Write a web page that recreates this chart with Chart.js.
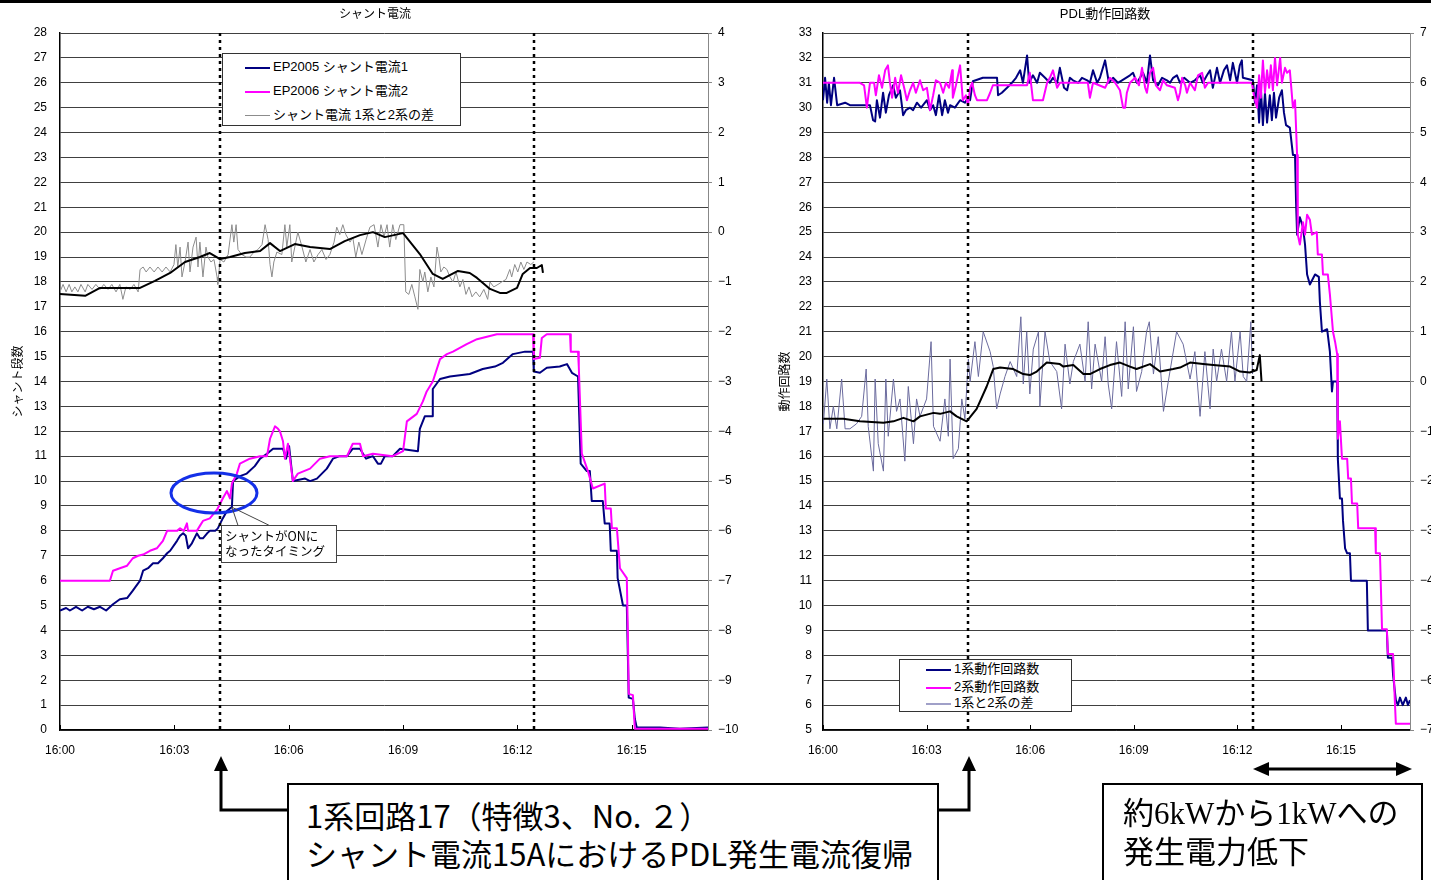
<!DOCTYPE html>
<html lang="ja">
<head>
<meta charset="utf-8">
<title>シャント電流 / PDL動作回路数</title>
<script src="https://cdn.jsdelivr.net/npm/chart.js@4.4.1/dist/chart.umd.min.js"></script>
<style>
  html, body { margin: 0; padding: 0; background: #fff; }
  body { width: 1431px; height: 880px; position: relative; overflow: hidden;
         font-family: 'Liberation Sans', 'Noto Sans CJK JP', sans-serif; }
  .topbar { position: absolute; left: 0; top: 0; width: 1431px; height: 3px; background: #000; }
  canvas { position: absolute; top: 0; }
  #cv1 { left: 0; }
  #cv2 { left: 765px; }
  .legend { position: absolute; background: #fff; border: 1px solid #333; font-size: 13px; color: #000; }
  .legend div { position: absolute; white-space: nowrap; }
  .legend i { display: inline-block; width: 25px; vertical-align: middle; margin-right: 3px; }
  .note { position: absolute; border: 2px solid #000; background: #fff; color: #000; }
  .note div { position: absolute; white-space: nowrap; }
  svg { position: absolute; left: 0; top: 0; }
</style>
</head>
<body>
<div class="topbar"></div>
<canvas id="cv1" width="750" height="771"></canvas>
<canvas id="cv2" width="680" height="771"></canvas>

<div class="legend" style="left:222px;top:53px;width:237px;height:71px;">
  <div style="left:22px;top:4px;line-height:18px;"><i style="border-top:2px solid #000080;"></i>EP2005 シャント電流1</div>
  <div style="left:22px;top:28px;line-height:18px;"><i style="border-top:2px solid #ff00ff;"></i>EP2006 シャント電流2</div>
  <div style="left:22px;top:52px;line-height:18px;"><i style="border-top:1px solid #8c8c8c;"></i>シャント電流 1系と2系の差</div>
</div>

<div class="legend" style="left:899px;top:659px;width:171px;height:51px;">
  <div style="left:26px;top:1px;line-height:16px;"><i style="border-top:2px solid #000080;"></i>1系動作回路数</div>
  <div style="left:26px;top:19px;line-height:16px;"><i style="border-top:2px solid #ff00ff;"></i>2系動作回路数</div>
  <div style="left:26px;top:35px;line-height:16px;"><i style="border-top:2px solid #a0a0c8;"></i>1系と2系の差</div>
</div>

<svg width="1431" height="880">
  <polyline points="287,810 221,810 221,768" fill="none" stroke="#000" stroke-width="3"/>
  <polygon points="221,756 214,771 228,771" fill="#000"/>
  <polyline points="937,810 969,810 969,768" fill="none" stroke="#000" stroke-width="3"/>
  <polygon points="969,756 962,771 976,771" fill="#000"/>
  <line x1="1266" y1="769" x2="1398" y2="769" stroke="#000" stroke-width="3"/>
  <polygon points="1253,769 1269,762 1269,776" fill="#000"/>
  <polygon points="1412,769 1396,762 1396,776" fill="#000"/>
</svg>

<div class="note" style="left:287px;top:783px;width:648px;height:120px;font-family:'Noto Sans CJK JP',sans-serif;font-size:31px;">
  <div style="left:17px;top:12px;line-height:36px;">1系回路17（特徴3、No. ２）</div>
  <div style="left:17px;top:50px;line-height:36px;">シャント電流15AにおけるPDL発生電流復帰</div>
</div>
<div class="note" style="left:1102px;top:783px;width:317px;height:120px;font-family:'Liberation Serif','Noto Sans CJK JP',serif;font-size:31px;">
  <div style="left:19px;top:11px;line-height:36px;">約6kWから1kWへの</div>
  <div style="left:19px;top:50px;line-height:36px;">発生電力低下</div>
</div>

<script>
// time axis: minutes after 16:00
const tickMinutes = [0, 3, 6, 9, 12, 15];
const tickLabels = ['16:00', '16:03', '16:06', '16:09', '16:12', '16:15'];

// シャント電流 chart, [minute, value]
const shunt1 = [[0,4.8],[0.16,4.9],[0.26,4.8],[0.42,4.95],[0.58,4.8],[0.73,4.95],[0.89,4.85],[1.05,4.95],[1.21,4.8],[1.39,5.05],[1.57,5.25],[1.76,5.3],[1.91,5.6],[2.10,6.0],[2.18,6.4],[2.31,6.5],[2.44,6.7],[2.57,6.7],[2.70,6.9],[2.81,7.1],[2.89,7.2],[3.07,7.6],[3.15,7.8],[3.23,7.9],[3.30,7.8],[3.36,7.3],[3.46,7.5],[3.59,7.9],[3.67,7.7],[3.75,7.7],[3.86,7.9],[3.93,8.0],[4.07,8.0],[4.14,8.1],[4.27,8.5],[4.38,8.8],[4.46,8.9],[4.51,8.95],[4.54,10.0],[4.72,10.2],[4.90,10.3],[5.11,10.6],[5.25,10.9],[5.43,11.1],[5.59,11.3],[5.85,11.3],[5.93,10.9],[6.01,11.4],[6.11,10.0],[6.43,10.1],[6.56,10.0],[6.74,10.1],[6.87,10.3],[7.00,10.5],[7.16,10.9],[7.34,11.0],[7.53,11.0],[7.68,11.3],[7.87,11.3],[8.03,10.9],[8.21,11.0],[8.34,10.7],[8.42,10.7],[8.52,11.0],[8.73,11.0],[8.92,11.3],[9.39,11.2],[9.44,12.1],[9.57,12.6],[9.76,12.6],[9.78,13.7],[9.97,14.1],[10.23,14.2],[10.75,14.3],[11.09,14.5],[11.41,14.6],[11.62,14.75],[11.88,15.1],[12.20,15.2],[12.41,15.2],[12.43,14.4],[12.59,14.35],[12.77,14.55],[13.11,14.6],[13.30,14.7],[13.43,14.35],[13.59,14.2],[13.66,10.7],[13.82,10.4],[13.90,10.4],[13.95,9.2],[14.24,9.2],[14.29,8.3],[14.42,8.3],[14.45,7.2],[14.61,7.2],[14.63,6.1],[14.77,5.0],[14.87,5.0],[14.90,2.8],[14.92,1.3],[15.03,1.25],[15.08,0.45],[15.13,0.1],[15.74,0.1],[16.26,0.05],[17.00,0.1]];
const shunt2 = [[0,6.0],[1.31,6.0],[1.39,6.4],[1.57,6.5],[1.76,6.6],[1.91,6.9],[2.05,7.0],[2.18,7.05],[2.36,7.2],[2.54,7.3],[2.70,7.6],[2.81,8.0],[3.07,8.0],[3.15,8.1],[3.25,8.0],[3.33,8.3],[3.36,8.0],[3.59,8.0],[3.67,8.2],[3.75,8.4],[3.93,8.5],[4.12,8.85],[4.27,9.3],[4.38,9.6],[4.46,9.3],[4.51,9.9],[4.64,10.3],[4.72,10.7],[4.85,10.8],[4.98,10.9],[5.25,11.0],[5.43,11.0],[5.51,11.7],[5.64,12.2],[5.72,12.1],[5.77,12.0],[5.85,11.6],[5.90,10.9],[5.98,11.5],[6.11,10.0],[6.24,10.3],[6.56,10.5],[6.82,10.9],[7.08,11.0],[7.53,11.0],[7.68,11.5],[7.87,11.5],[7.95,11.0],[8.21,11.1],[8.73,11.0],[9.00,11.2],[9.10,12.4],[9.36,12.7],[9.52,13.2],[9.62,13.6],[9.78,14.0],[9.97,14.9],[10.15,15.1],[10.31,15.2],[10.67,15.5],[10.94,15.7],[11.46,15.9],[12.41,15.9],[12.43,14.9],[12.59,14.95],[12.64,15.75],[12.77,15.9],[13.38,15.9],[13.40,15.2],[13.59,15.2],[13.61,14.6],[13.69,11.1],[13.85,10.4],[13.98,9.7],[14.29,9.9],[14.32,8.9],[14.45,8.9],[14.48,8.1],[14.61,8.1],[14.69,6.5],[14.87,6.1],[14.90,3.7],[14.92,1.45],[15.03,1.4],[15.08,0.05],[17.00,0.05]];
// difference (right axis)
const shuntDiff = [[0,-1.2],[0.08,-1.05],[0.16,-1.2],[0.24,-1.05],[0.31,-1.2],[0.39,-1.1],[0.47,-1.2],[0.55,-1.05],[0.66,-1.2],[0.73,-1.05],[0.84,-1.15],[0.94,-1.05],[1.05,-1.15],[1.15,-1.05],[1.26,-1.15],[1.36,-1.05],[1.47,-1.2],[1.57,-1.05],[1.65,-1.35],[1.73,-1.1],[1.84,-1.15],[1.94,-1.05],[2.05,-1.2],[2.10,-0.75],[2.18,-0.7],[2.26,-0.8],[2.36,-0.7],[2.47,-0.8],[2.57,-0.7],[2.68,-0.8],[2.78,-0.7],[2.89,-0.8],[2.99,-0.65],[3.04,-0.25],[3.09,-0.7],[3.15,-0.3],[3.20,-0.9],[3.28,-0.6],[3.36,-0.2],[3.41,-0.8],[3.49,-0.3],[3.57,-0.1],[3.62,-0.7],[3.67,-0.2],[3.75,-0.9],[3.83,-0.3],[3.88,-0.5],[3.96,-0.6],[4.04,-0.55],[4.12,-0.9],[4.14,-1.05],[4.20,-0.55],[4.30,-0.6],[4.41,-0.45],[4.51,0.15],[4.56,-0.2],[4.62,0.15],[4.67,-0.35],[4.77,-0.45],[4.88,-0.5],[4.98,-0.5],[5.09,-0.4],[5.19,-0.35],[5.30,-0.25],[5.38,0.15],[5.46,-0.15],[5.51,-0.65],[5.56,-0.9],[5.61,-0.6],[5.69,-0.4],[5.82,-0.45],[5.90,0.15],[5.95,-0.3],[6.03,0.15],[6.08,-0.6],[6.16,-0.3],[6.24,0.0],[6.35,-0.3],[6.45,-0.6],[6.56,-0.35],[6.66,-0.6],[6.77,-0.45],[6.87,-0.35],[6.98,-0.55],[7.08,-0.45],[7.19,-0.2],[7.26,0.1],[7.34,-0.05],[7.42,0.15],[7.50,-0.05],[7.61,-0.2],[7.68,-0.1],[7.76,-0.5],[7.84,-0.2],[7.92,-0.45],[8.03,-0.15],[8.13,0.1],[8.24,0.15],[8.34,-0.3],[8.42,0.15],[8.50,-0.1],[8.58,0.15],[8.65,-0.3],[8.73,0.15],[8.81,-0.15],[8.92,0.15],[9.02,0.15],[9.07,-1.2],[9.15,-1.25],[9.23,-1.05],[9.31,-1.3],[9.39,-1.55],[9.44,-0.75],[9.52,-1.0],[9.57,-0.8],[9.65,-1.2],[9.73,-0.9],[9.81,-1.1],[9.89,-0.3],[9.94,-0.5],[9.99,-0.8],[10.07,-0.7],[10.15,-0.75],[10.23,-0.9],[10.31,-1.0],[10.39,-0.8],[10.49,-1.1],[10.57,-0.95],[10.65,-1.25],[10.73,-1.1],[10.81,-1.3],[10.91,-1.2],[11.01,-1.3],[11.12,-1.15],[11.22,-1.35],[11.28,-1.0],[11.38,-1.1],[11.49,-1.05],[11.59,-1.0],[11.70,-0.95],[11.80,-0.75],[11.85,-0.9],[11.93,-0.65],[12.01,-0.8],[12.09,-0.6],[12.17,-0.75],[12.25,-0.6],[12.35,-0.65],[12.43,-0.6]];
const shuntDiffAvg = [[0,-1.24],[0.66,-1.28],[1.05,-1.12],[2.10,-1.12],[2.49,-0.98],[2.89,-0.82],[3.28,-0.6],[3.67,-0.5],[3.93,-0.42],[4.20,-0.54],[4.46,-0.5],[4.85,-0.42],[5.25,-0.38],[5.51,-0.22],[5.77,-0.38],[6.16,-0.24],[6.56,-0.3],[7.08,-0.34],[7.47,-0.18],[7.87,-0.06],[8.21,0.0],[8.52,-0.1],[9.00,-0.02],[9.44,-0.44],[9.78,-0.84],[10.04,-0.94],[10.44,-0.78],[10.75,-0.82],[10.94,-0.92],[11.28,-1.14],[11.54,-1.22],[11.72,-1.22],[11.99,-1.12],[12.14,-0.84],[12.33,-0.72],[12.51,-0.72],[12.64,-0.66],[12.67,-0.82]];

// PDL動作回路数 chart
const pdl1 = [[0,30.3],[0.06,31.2],[0.12,30.2],[0.17,31.0],[0.23,30.1],[0.32,31.2],[0.41,30.1],[0.64,30.2],[0.78,30.1],[1.36,30.1],[1.45,29.5],[1.51,29.45],[1.56,30.3],[1.65,29.6],[1.74,30.6],[1.82,29.8],[1.91,30.5],[2.03,30.9],[2.11,30.4],[2.23,30.7],[2.32,29.7],[2.40,29.9],[2.52,30.0],[2.61,29.9],[2.72,30.2],[2.84,30.0],[3.01,30.3],[3.10,29.9],[3.19,30.1],[3.27,29.7],[3.36,30.5],[3.45,29.7],[3.53,30.3],[3.62,29.8],[3.68,30.1],[3.82,30.0],[3.97,30.3],[4.11,30.2],[4.20,30.4],[4.26,30.3],[4.34,31.06],[4.63,31.2],[5.04,31.2],[5.07,30.5],[5.18,30.6],[5.33,30.8],[5.47,31.0],[5.59,31.2],[5.71,31.5],[5.79,31.0],[5.91,32.1],[5.97,31.0],[6.08,31.3],[6.20,31.0],[6.28,31.4],[6.43,31.2],[6.57,31.0],[6.66,31.2],[6.78,31.0],[6.86,31.6],[6.98,30.8],[7.07,30.7],[7.15,31.2],[7.24,31.1],[7.39,31.0],[7.50,31.2],[7.65,31.1],[7.73,31.0],[7.82,31.5],[7.94,31.0],[8.02,31.2],[8.17,31.9],[8.28,31.0],[8.40,31.2],[8.54,31.0],[8.66,31.1],[8.89,31.3],[8.98,31.4],[9.09,31.0],[9.27,31.4],[9.38,31.0],[9.47,32.1],[9.56,31.1],[9.70,30.9],[9.82,31.2],[9.96,31.1],[10.05,31.0],[10.14,31.2],[10.25,31.3],[10.34,31.0],[10.46,31.2],[10.63,31.0],[10.77,31.1],[10.92,31.3],[11.00,31.0],[11.12,31.3],[11.21,31.5],[11.29,30.8],[11.41,31.6],[11.50,31.0],[11.61,31.5],[11.70,31.7],[11.79,31.1],[11.87,31.8],[11.99,31.0],[12.07,31.7],[12.13,31.9],[12.16,31.2],[12.45,31.1],[12.51,30.2],[12.57,30.9],[12.63,29.4],[12.68,30.8],[12.74,29.3],[12.80,30.6],[12.86,29.4],[12.94,30.5],[13.00,29.5],[13.06,30.6],[13.12,29.6],[13.21,30.4],[13.29,30.7],[13.35,29.8],[13.41,29.3],[13.52,29.2],[13.61,28.1],[13.67,28.1],[13.70,26.2],[13.73,24.9],[13.81,25.6],[13.90,25.2],[13.96,24.5],[14.02,23.3],[14.10,22.9],[14.25,23.3],[14.36,23.2],[14.39,22.2],[14.45,21.0],[14.60,21.1],[14.68,20.2],[14.74,18.6],[14.77,19.0],[14.89,19.0],[14.91,15.9],[14.97,14.3],[15.03,14.3],[15.06,13.4],[15.12,12.3],[15.18,12.1],[15.26,12.1],[15.29,11.0],[15.75,11.0],[15.78,9.0],[16.33,9.0],[16.36,7.9],[16.48,7.9],[16.51,7.2],[16.59,6.2],[16.65,6.0],[16.71,6.3],[16.79,6.0],[16.88,6.3],[16.94,6.0],[17.00,6.2]];
const pdl2 = [[0,31.0],[1.07,31.0],[1.19,30.9],[1.27,30.0],[1.36,31.0],[1.48,31.0],[1.53,30.5],[1.62,31.3],[1.71,30.8],[1.80,31.5],[1.88,31.7],[1.94,31.0],[2.00,30.4],[2.09,31.2],[2.17,30.6],[2.26,31.3],[2.35,30.8],[2.43,30.3],[2.52,30.7],[2.61,31.0],[2.69,30.6],[2.81,31.1],[2.90,30.7],[3.01,30.8],[3.10,29.9],[3.19,30.5],[3.27,31.1],[3.39,31.0],[3.48,30.6],[3.56,31.0],[3.65,30.8],[3.74,31.5],[3.76,30.4],[3.85,30.9],[3.97,31.7],[4.05,30.3],[4.14,30.5],[4.20,30.1],[4.26,30.8],[4.32,31.0],[4.40,30.5],[4.46,30.3],[4.75,30.3],[4.84,30.6],[4.92,30.9],[5.91,30.9],[5.99,31.4],[6.08,30.3],[6.37,30.3],[6.49,31.0],[6.57,31.2],[6.66,31.5],[6.78,30.8],[6.86,31.0],[7.67,31.0],[7.73,30.4],[7.82,31.0],[8.17,30.8],[8.31,31.2],[8.46,31.0],[8.60,30.7],[8.69,30.0],[8.75,30.0],[8.80,30.6],[8.89,31.0],[9.04,31.2],[9.15,30.9],[9.24,31.6],[9.33,30.8],[9.38,30.6],[9.47,31.4],[9.56,31.6],[9.64,30.9],[9.76,30.7],[9.85,31.1],[9.96,30.9],[10.19,30.8],[10.28,30.3],[10.34,30.6],[10.40,31.2],[10.49,30.9],[10.54,30.6],[10.63,31.0],[10.77,30.7],[10.86,31.3],[10.98,31.4],[11.06,30.8],[11.15,31.0],[12.42,31.0],[12.48,30.5],[12.57,30.0],[12.63,31.3],[12.68,30.4],[12.74,31.9],[12.80,30.6],[12.86,31.5],[12.92,30.8],[12.97,31.7],[13.03,30.7],[13.09,32.0],[13.15,30.9],[13.24,32.0],[13.29,31.0],[13.38,31.6],[13.44,31.4],[13.52,31.5],[13.61,30.0],[13.67,30.3],[13.73,28.1],[13.75,24.9],[13.81,24.5],[13.90,25.4],[13.96,24.9],[14.02,25.7],[14.10,25.5],[14.16,24.9],[14.30,25.0],[14.33,24.1],[14.45,24.1],[14.48,23.3],[14.62,23.3],[14.68,22.5],[14.74,21.5],[14.77,21.0],[14.83,20.6],[14.89,20.1],[14.91,16.7],[14.97,17.4],[15.03,15.9],[15.18,15.9],[15.21,15.1],[15.29,15.1],[15.32,14.1],[15.47,14.1],[15.50,13.1],[15.99,13.1],[16.01,12.1],[16.13,12.1],[16.19,9.05],[16.33,9.05],[16.36,8.05],[16.51,8.05],[16.56,6.2],[16.59,5.25],[17.00,5.25]];
// difference (right axis)
const pdlDiff = [[0.01,-0.85],[0.11,0.05],[0.20,-0.95],[0.30,-0.5],[0.40,-0.95],[0.54,0.05],[0.64,-0.95],[0.78,-0.95],[0.97,-0.85],[1.12,-0.7],[1.25,0.25],[1.31,-0.9],[1.46,-1.8],[1.51,0.05],[1.60,-1.25],[1.75,-1.8],[1.82,0.05],[1.89,-1.1],[2.04,0.05],[2.13,-0.6],[2.23,-0.35],[2.37,-1.6],[2.47,-0.1],[2.62,-1.25],[2.71,-0.35],[2.81,-0.7],[3.00,-0.35],[3.13,0.8],[3.20,-0.9],[3.39,-1.2],[3.53,-0.35],[3.63,-1.1],[3.68,0.45],[3.77,-1.55],[3.92,-1.35],[4.02,-0.35],[4.11,-0.75],[4.21,0.45],[4.26,0.0],[4.40,0.8],[4.50,0.1],[4.64,1.0],[4.84,0.6],[4.93,0.3],[5.03,-0.55],[5.13,-0.25],[5.27,0.1],[5.42,0.4],[5.61,0.1],[5.73,1.3],[5.80,-0.05],[5.90,1.0],[5.99,-0.25],[6.09,0.65],[6.24,1.0],[6.28,-0.5],[6.43,1.0],[6.57,0.4],[6.77,0.2],[6.91,-0.55],[7.01,0.75],[7.15,-0.05],[7.25,0.4],[7.44,0.75],[7.59,0.0],[7.68,1.2],[7.78,-0.15],[7.88,0.75],[8.07,0.0],[8.17,0.9],[8.26,-0.05],[8.36,-0.55],[8.50,0.8],[8.65,-0.3],[8.75,1.2],[8.84,-0.15],[8.99,1.1],[9.08,-0.2],[9.23,0.2],[9.37,1.0],[9.45,1.2],[9.57,0.15],[9.71,0.9],[9.86,-0.6],[10.00,0.0],[10.24,1.0],[10.43,0.75],[10.63,0.05],[10.77,0.6],[10.92,-0.7],[11.06,0.6],[11.21,-0.55],[11.30,0.65],[11.40,0.0],[11.54,0.65],[11.69,0.0],[11.83,1.0],[11.93,0.0],[12.08,1.0],[12.17,0.1],[12.27,0.0],[12.39,1.2],[12.44,0.15]];
const pdlDiffAvg = [[0.01,-0.75],[0.59,-0.75],[1.07,-0.8],[1.75,-0.83],[2.04,-0.8],[2.33,-0.73],[2.62,-0.8],[2.81,-0.7],[3.20,-0.63],[3.39,-0.65],[3.68,-0.6],[3.87,-0.7],[4.16,-0.8],[4.45,-0.55],[4.74,-0.1],[4.93,0.25],[5.13,0.28],[5.51,0.25],[5.80,0.15],[5.99,0.13],[6.19,0.2],[6.48,0.38],[6.86,0.35],[6.96,0.3],[7.25,0.33],[7.54,0.15],[7.73,0.15],[8.02,0.25],[8.31,0.33],[8.60,0.38],[8.89,0.3],[9.08,0.25],[9.47,0.35],[9.76,0.2],[10.14,0.25],[10.34,0.28],[10.63,0.38],[11.01,0.35],[11.30,0.33],[11.79,0.3],[12.08,0.2],[12.36,0.18],[12.56,0.23],[12.65,0.53],[12.70,0.0]];

Chart.defaults.font.family = "'Liberation Sans','Noto Sans CJK JP',sans-serif";
Chart.defaults.font.size = 12;
Chart.defaults.color = '#000';

const xy = a => a.map(p => ({ x: p[0], y: p[1] }));

// dotted markers, inward time ticks, ellipse and callout
const marks = {
  id: 'marks',
  afterDatasetsDraw(chart, args, opts) {
    const { ctx, chartArea: a, scales: { x, y } } = chart;
    ctx.save();
    ctx.strokeStyle = '#000';
    ctx.lineWidth = 1;
    tickMinutes.forEach(m => {
      const px = Math.round(x.getPixelForValue(m)) + 0.5;
      ctx.beginPath(); ctx.moveTo(px, a.bottom); ctx.lineTo(px, a.bottom - 5); ctx.stroke();
    });
    ctx.setLineDash([3, 4]);
    ctx.lineWidth = 2.5;
    (opts.lines || []).forEach(m => {
      const px = Math.round(x.getPixelForValue(m));
      ctx.beginPath(); ctx.moveTo(px, a.top); ctx.lineTo(px, a.bottom); ctx.stroke();
    });
    ctx.setLineDash([]);
    if (opts.ellipse) {
      const e = opts.ellipse;
      ctx.strokeStyle = '#1430e8';
      ctx.lineWidth = 3;
      ctx.beginPath();
      ctx.ellipse(x.getPixelForValue(e.at[0]), y.getPixelForValue(e.at[1]), e.rx, e.ry, 0, 0, Math.PI * 2);
      ctx.stroke();
    }
    if (opts.callout) {
      const c = opts.callout;
      const ax = x.getPixelForValue(c.at[0]), ay = y.getPixelForValue(c.at[1]);
      const bx = ax + c.dx, by = ay + c.dy;
      ctx.strokeStyle = '#444';
      ctx.lineWidth = 1;
      ctx.fillStyle = '#fff';
      ctx.beginPath();
      ctx.moveTo(bx + 17, by); ctx.lineTo(ax, ay); ctx.lineTo(bx + 48, by);
      ctx.stroke();
      ctx.fillRect(bx, by, c.w, c.h);
      ctx.strokeRect(Math.round(bx) + 0.5, Math.round(by) + 0.5, c.w, c.h);
      ctx.fillStyle = '#000';
      ctx.font = "12.5px 'Noto Sans CJK JP', sans-serif";
      ctx.textBaseline = 'middle';
      c.text.forEach((t, i) => ctx.fillText(t, bx + 4, by + 11 + i * 15));
    }
    ctx.restore();
  }
};

function makeChart(id, cfg) {
  return new Chart(document.getElementById(id), {
    type: 'line',
    data: { datasets: cfg.datasets },
    plugins: [marks],
    options: {
      responsive: false,
      animation: false,
      devicePixelRatio: 1,
      layout: { padding: 0 },
      elements: { point: { radius: 0 }, line: { tension: 0, borderJoinStyle: 'round' } },
      plugins: {
        legend: { display: false },
        tooltip: { enabled: false },
        title: { display: true, text: cfg.title, color: '#000', font: { size: cfg.titleSize, weight: 'normal' },
                 padding: { top: 7, bottom: 33 - 7 - cfg.titleSize * 1.2 } },
        marks: cfg.marks
      },
      scales: {
        x: {
          type: 'linear', min: 0, max: 17,
          afterFit: s => { s.height = 41; },
          afterBuildTicks: s => { s.ticks = tickMinutes.map(v => ({ value: v })); },
          ticks: { callback: v => tickLabels[tickMinutes.indexOf(v)], padding: 13, maxRotation: 0, autoSkip: false },
          grid: { drawOnChartArea: false, drawTicks: false },
          border: { color: '#000', width: 1.5 }
        },
        y: {
          position: 'left', min: cfg.yMin, max: cfg.yMax,
          afterFit: s => { s.width = cfg.leftW; },
          ticks: { stepSize: 1, padding: cfg.leftPad, autoSkip: false },
          grid: { color: '#404040', drawTicks: false },
          border: { color: '#000', width: 1.5 },
          title: { display: true, text: cfg.yTitle, color: '#000', font: { size: 12 }, padding: { top: cfg.titlePad, bottom: 0 } }
        },
        y2: {
          position: 'right', min: cfg.rMin, max: cfg.rMax,
          afterFit: s => { s.width = cfg.rightW; },
          ticks: { stepSize: 1, padding: 6, autoSkip: false, callback: v => v < 0 ? '−' + Math.abs(v) : v },
          grid: { drawOnChartArea: false, tickLength: 4, color: '#888' },
          border: { color: '#888' }
        }
      }
    }
  });
}

makeChart('cv1', {
  title: 'シャント電流', titleSize: 12,
  yTitle: 'シャント段数', yMin: 0, yMax: 28, rMin: -10, rMax: 4,
  leftW: 60, rightW: 42, leftPad: 13, titlePad: 11,
  marks: {
    lines: [4.2, 12.43],
    ellipse: { at: [4.04, 9.52], rx: 43, ry: 20 },
    callout: { at: [4.51, 8.95], dx: -11, dy: 18, w: 115, h: 37, text: ['シャントがONに', 'なったタイミング'] }
  },
  datasets: [
    { data: xy(shuntDiffAvg), yAxisID: 'y2', borderColor: '#000', borderWidth: 2 },
    { data: xy(shunt2), yAxisID: 'y', borderColor: '#ff00ff', borderWidth: 2 },
    { data: xy(shunt1), yAxisID: 'y', borderColor: '#000080', borderWidth: 2 },
    { data: xy(shuntDiff), yAxisID: 'y2', borderColor: '#8c8c8c', borderWidth: 1 }
  ]
});

makeChart('cv2', {
  title: 'PDL動作回路数', titleSize: 13,
  yTitle: '動作回路数', yMin: 5, yMax: 33, rMin: -7, rMax: 7,
  leftW: 58, rightW: 35, leftPad: 11, titlePad: 13,
  marks: { lines: [4.2, 12.45] },
  datasets: [
    { data: xy(pdlDiffAvg), yAxisID: 'y2', borderColor: '#000', borderWidth: 2 },
    { data: xy(pdl2), yAxisID: 'y', borderColor: '#ff00ff', borderWidth: 2 },
    { data: xy(pdl1), yAxisID: 'y', borderColor: '#000080', borderWidth: 2 },
    { data: xy(pdlDiff), yAxisID: 'y2', borderColor: '#6b6b9e', borderWidth: 1 }
  ]
});
</script>
</body>
</html>
